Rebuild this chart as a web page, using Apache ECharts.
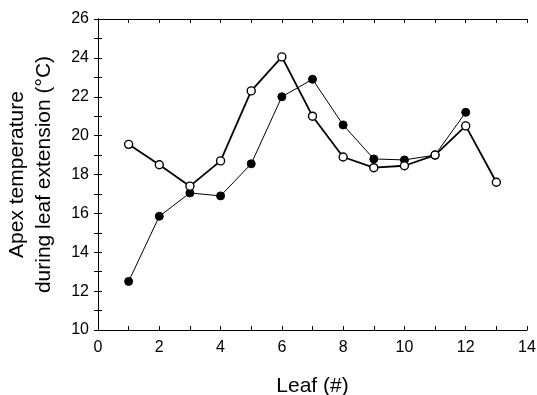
<!DOCTYPE html>
<html>
<head>
<meta charset="utf-8">
<script src="https://cdn.jsdelivr.net/npm/echarts@6/dist/echarts.min.js"></script>
<style>
  html, body { margin: 0; padding: 0; background: #fff; }
  #chart { width: 537px; height: 395px; }
</style>
</head>
<body>
<div id="chart"></div>
<script>
// leaf number
const leafFilled = [1, 2, 3, 4, 5, 6, 7, 8, 9, 10, 11, 12]
const leafOpen = [1, 2, 3, 4, 5, 6, 7, 8, 9, 10, 11, 12, 13]

// apex temperature (°C)
const tempFilled = [12.5, 15.85, 17.05, 16.9, 18.55, 22.0, 22.9, 20.55, 18.8, 18.75, 19.0, 21.2]
const tempOpen = [19.55, 18.5, 17.4, 18.7, 22.3, 24.05, 21.0, 18.9, 18.35, 18.45, 19.0, 20.5, 17.6]

const font = '"Liberation Sans", Arial, sans-serif'
const chart = echarts.init(document.getElementById('chart'))

const axisCommon = {
  type: 'value',
  interval: 2,
  axisLine: { show: true, lineStyle: { color: '#000', width: 1 } },
  axisTick: { show: true, inside: true, length: 4, lineStyle: { color: '#000' } },
  minorTick: { show: true, splitNumber: 2, length: 4, lineStyle: { color: '#000' } },
  splitLine: { show: false }
}

const option = {
  backgroundColor: '#fff',
  animation: false,
  grid: { left: 98, right: 10, top: 19, bottom: 65, outerBoundsMode: 'none' },
  xAxis: [
    {
      ...axisCommon,
      position: 'bottom',
      min: 0,
      max: 14,
      name: 'Leaf (#)',
      nameLocation: 'middle',
      nameGap: 46,
      nameTextStyle: { fontFamily: font, fontSize: 21, color: '#000' },
      axisLabel: { fontFamily: font, fontSize: 16, color: '#000', margin: 10 }
    },
    {
      ...axisCommon,
      position: 'top',
      min: 0,
      max: 14,
      axisLabel: { show: false }
    }
  ],
  yAxis: [
    {
      ...axisCommon,
      position: 'left',
      min: 10,
      max: 26,
      name: 'Apex temperature\nduring leaf extension (°C)',
      nameLocation: 'middle',
      nameGap: 40,
      nameTextStyle: { fontFamily: font, fontSize: 21, color: '#000', lineHeight: 27 },
      axisLabel: { fontFamily: font, fontSize: 16, color: '#000', margin: 9 }
    },
    {
      ...axisCommon,
      position: 'right',
      min: 10,
      max: 26,
      axisLabel: { show: false }
    }
  ],
  series: [
    {
      type: 'line',
      data: leafFilled.map((x, i) => [x, tempFilled[i]]),
      symbol: 'circle',
      symbolSize: 8,
      lineStyle: { color: '#000', width: 1 },
      itemStyle: { color: '#000', borderColor: '#000', borderWidth: 1 },
      z: 2
    },
    {
      type: 'line',
      data: leafOpen.map((x, i) => [x, tempOpen[i]]),
      symbol: 'circle',
      symbolSize: 8,
      showAllSymbol: true,
      lineStyle: { color: '#000', width: 1.8 },
      itemStyle: { color: '#fff', borderColor: '#000', borderWidth: 1.4 },
      z: 3
    }
  ]
}

chart.setOption(option)
</script>
</body>
</html>
